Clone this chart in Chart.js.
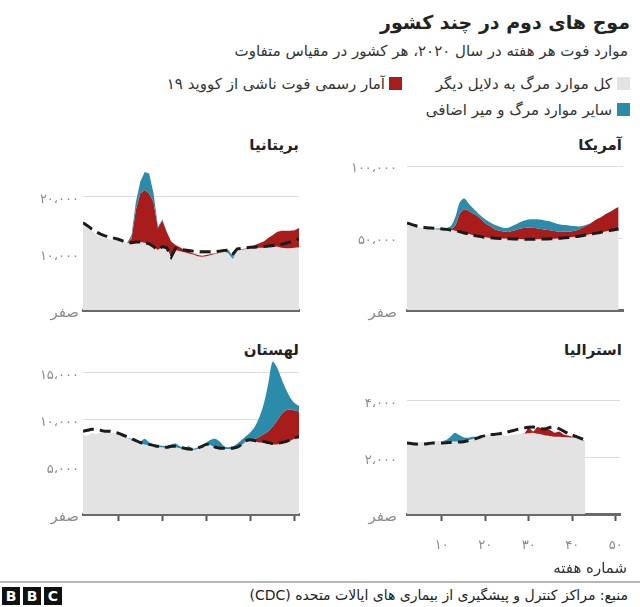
<!DOCTYPE html>
<html lang="fa" dir="rtl">
<head>
<meta charset="utf-8">
<title>موج های دوم در چند کشور</title>
<script src="https://cdn.jsdelivr.net/npm/chart.js@4.4.1/dist/chart.umd.min.js"></script>
<style>
  html, body { margin: 0; padding: 0; background: #fff; }
  body { width: 640px; height: 607px; position: relative; overflow: hidden;
         font-family: "DejaVu Sans", "Noto Sans", sans-serif; color: #222; }
  .txt { position: absolute; white-space: nowrap; direction: rtl; }
  .title { right: 10px; top: 7px; font-size: 19px; font-weight: bold; line-height: 30px; }
  .sub { right: 12px; top: 40px; font-size: 15px; line-height: 22px; color: #333; }
  .leg { font-size: 15px; line-height: 20px; color: #333; }
  .sw { position: absolute; width: 13px; height: 13px; }
  .ptitle { font-size: 15px; font-weight: bold; line-height: 20px; }
  canvas { position: absolute; }
  .rule { position: absolute; left: 0; top: 581px; width: 640px; height: 2px; background: #b5b5b5; }
  .bbc span { position: absolute; top: 587px; width: 18px; height: 18px; background: #111; color: #fff;
              font: bold 14px/18px "DejaVu Sans", sans-serif; text-align: center; direction: ltr; }
</style>
</head>
<body>

<div class="txt title">موج های دوم در چند کشور</div>
<div class="txt sub">موارد فوت هر هفته در سال ۲۰۲۰، هر کشور در مقیاس متفاوت</div>

<div class="sw" style="right:10px; top:77px; background:#e3e3e3"></div>
<div class="txt leg" style="right:28px; top:74px">کل موارد مرگ به دلایل دیگر</div>
<div class="sw" style="right:238px; top:77px; background:#a81c1c"></div>
<div class="txt leg" style="right:255px; top:74px">آمار رسمی فوت ناشی از کووید ۱۹</div>
<div class="sw" style="right:10px; top:103px; background:#2a8bab"></div>
<div class="txt leg" style="right:28px; top:100px">سایر موارد مرگ و میر اضافی</div>

<div class="txt ptitle" style="right:18px; top:135px">آمریکا</div>
<div class="txt ptitle" style="right:341px; top:135px">بریتانیا</div>
<div class="txt ptitle" style="right:18px; top:340px">استرالیا</div>
<div class="txt ptitle" style="right:341px; top:340px">لهستان</div>

<canvas id="us" width="320" height="200" style="left:320px; top:130px"></canvas>
<canvas id="uk" width="320" height="200" style="left:0px; top:130px"></canvas>
<canvas id="au" width="320" height="250" style="left:320px; top:330px"></canvas>
<canvas id="pl" width="320" height="250" style="left:0px; top:330px"></canvas>

<div class="txt" style="right:13px; top:558px; font-size:15px; line-height:20px; color:#333">شماره هفته</div>

<div class="rule"></div>
<div class="bbc"><span style="left:2px">B</span><span style="left:23px">B</span><span style="left:44px">C</span></div>
<div class="txt" style="right:12px; top:585px; font-size:14px; line-height:20px">منبع: مراکز کنترل و پیشگیری از بیماری های ایالات متحده (CDC)</div>

<script>
// week numbers of 2020 (x axis)
const weeks = [2, 3, 4, 5, 6, 7, 8, 9, 10, 11, 12, 13, 14, 15, 16, 17, 18, 19, 20, 21,
  22, 23, 24, 25, 26, 27, 28, 29, 30, 31, 32, 33, 34, 35, 36, 37, 38, 39, 40, 41,
  42, 43, 44, 45, 46, 47, 48, 49, 50, 51];
const weekTicks = [10, 20, 30, 40, 50];
const weekTickLabels = ['۱۰', '۲۰', '۳۰', '۴۰', '۵۰'];

// all values in thousands of deaths per week
// "other" = top of grey area, "covid" = top of red area, "total" = top of teal area,
// "expected" = dashed line

// USA (weeks 2-50)
const usOther = [59.5, 58.5, 57.8, 57.2, 56.8, 56.5, 56.3, 56.0, 55.8, 55.5,
  55.5, 55.0, 54.4, 53.5, 52.8, 52.0, 51.3, 50.8, 50.4, 50.1,
  49.9, 49.7, 49.6, 49.5, 49.4, 49.3, 49.2, 49.1, 49.1, 49.1,
  49.2, 49.3, 49.4, 49.5, 49.7, 49.9, 50.2, 50.5, 50.9, 51.3,
  51.8, 52.3, 52.8, 53.4, 54.0, 54.6, 55.2, 55.8, 56.3];
const usCovid = [59.5, 58.5, 57.8, 57.2, 56.8, 56.5, 56.3, 56.0, 55.8, 55.5,
  56.0, 59.0, 67.0, 70.0, 69.0, 67.0, 65.3, 62.5, 59.7, 58.0,
  56.0, 55.0, 54.5, 54.2, 55.0, 56.0, 56.8, 57.2, 57.2, 57.0,
  56.5, 56.0, 55.5, 55.0, 54.6, 54.4, 54.4, 54.5, 55.0, 56.0,
  57.5, 59.0, 61.0, 63.0, 64.5, 66.5, 68.0, 70.0, 71.5];
const usTotal = [59.5, 58.5, 57.8, 57.2, 56.8, 56.5, 56.5, 56.6, 56.8, 57.0,
  58.5, 65.0, 75.0, 77.5, 74.0, 70.6, 67.6, 64.8, 62.5, 60.6,
  59.0, 57.9, 57.0, 57.2, 58.5, 60.0, 61.5, 62.5, 63.0, 63.0,
  62.8, 62.4, 61.8, 61.0, 60.0, 59.3, 59.0, 58.5, 58.3, 58.0,
  58.5, 59.5, 61.0, 63.0, 64.5, 66.5, 68.0, 70.0, 71.5];
const usExpected = [60.5, 59.5, 58.5, 57.8, 57.3, 57.0, 56.8, 56.5, 56.3, 56.0,
  55.5, 55.0, 54.4, 53.5, 52.8, 52.0, 51.3, 50.8, 50.4, 50.1,
  49.9, 49.7, 49.6, 49.5, 49.4, 49.3, 49.2, 49.1, 49.1, 49.1,
  49.2, 49.3, 49.4, 49.5, 49.7, 49.9, 50.2, 50.5, 50.9, 51.3,
  51.8, 52.3, 52.8, 53.4, 54.0, 54.6, 55.2, 55.8, 56.3];
const usTicks = [0, 50, 100];
const usTickLabels = ['صفر', '۵۰،۰۰۰', '۱۰۰،۰۰۰'];

// UK (weeks 2-51)
const ukOther = [15.3, 14.6, 14.0, 13.3, 13.0, 12.7, 12.5, 12.4, 12.3, 12.1,
  11.9, 11.9, 12.0, 12.0, 11.9, 11.7, 11.2, 10.6, 11.2, 11.0,
  9.4, 10.6, 10.4, 10.2, 10.0, 9.8, 9.5, 9.4, 9.5, 9.7,
  9.9, 10.1, 10.4, 10.0, 9.0, 10.6, 10.6, 10.8, 11.0, 11.0,
  11.0, 11.0, 11.1, 11.1, 11.2, 11.0, 10.9, 10.9, 11.0, 11.1];
const ukCovid = [15.3, 14.6, 14.0, 13.3, 13.0, 12.7, 12.5, 12.4, 12.3, 12.1,
  11.9, 12.6, 17.7, 20.6, 21.2, 20.6, 19.1, 14.5, 15.8, 13.8,
  12.1, 11.5, 11.1, 10.6, 10.3, 10.0, 9.7, 9.6, 9.7, 9.9,
  10.0, 10.2, 10.5, 10.0, 9.0, 10.7, 10.7, 10.9, 11.2, 11.5,
  11.8, 12.1, 12.7, 13.2, 13.8, 14.0, 14.0, 14.0, 14.1, 14.5];
const ukTotal = [15.3, 14.6, 14.0, 13.3, 13.0, 12.7, 12.5, 12.4, 12.3, 12.1,
  11.9, 13.2, 19.1, 22.7, 24.4, 24.1, 20.6, 14.7, 16.0, 13.8,
  12.1, 11.5, 11.1, 10.6, 10.3, 10.0, 9.7, 9.6, 9.7, 9.9,
  10.0, 10.2, 10.5, 10.6, 9.4, 10.9, 10.7, 10.9, 11.2, 11.5,
  11.8, 12.1, 12.7, 13.2, 13.8, 14.0, 14.0, 14.0, 14.1, 14.5];
const ukExpected = [15.4, 14.9, 14.3, 13.8, 13.4, 13.1, 12.9, 12.7, 12.5, 12.2,
  11.9, 11.9, 12.0, 12.0, 11.9, 11.7, 11.2, 10.6, 11.2, 11.0,
  9.4, 10.9, 10.7, 10.6, 10.5, 10.4, 10.3, 10.3, 10.3, 10.3,
  10.3, 10.4, 10.5, 10.6, 9.9, 10.8, 10.9, 11.0, 11.1, 11.1,
  11.2, 11.2, 11.3, 11.4, 11.5, 11.6, 11.8, 12.0, 12.3, 12.6];
const ukTicks = [0, 10, 20];
const ukTickLabels = ['صفر', '۱۰،۰۰۰', '۲۰،۰۰۰'];

// Australia (weeks 2-43)
const auOther = [2.54, 2.53, 2.52, 2.52, 2.54, 2.56, 2.57, 2.57, 2.56, 2.55,
  2.55, 2.55, 2.55, 2.56, 2.60, 2.63, 2.68, 2.74, 2.78, 2.80,
  2.82, 2.84, 2.80, 2.74, 2.78, 2.80, 2.82, 2.83, 2.84, 2.86,
  2.82, 2.80, 2.76, 2.74, 2.72, 2.72, 2.71, 2.70, 2.69, 2.68,
  2.66, 2.52];
const auCovid = [2.54, 2.53, 2.52, 2.52, 2.54, 2.56, 2.57, 2.57, 2.56, 2.55,
  2.55, 2.55, 2.55, 2.56, 2.60, 2.63, 2.68, 2.74, 2.78, 2.80,
  2.82, 2.84, 2.80, 2.74, 2.78, 2.80, 2.82, 2.83, 3.05, 2.90,
  3.06, 3.02, 2.98, 2.95, 2.86, 2.90, 2.80, 2.76, 2.72, 2.71,
  2.68, 2.52];
const auTotal = [2.54, 2.53, 2.52, 2.52, 2.54, 2.56, 2.57, 2.57, 2.56, 2.60,
  2.72, 2.86, 2.78, 2.70, 2.68, 2.72, 2.72, 2.74, 2.78, 2.80,
  2.82, 2.84, 2.80, 2.74, 2.78, 2.80, 2.82, 2.83, 3.05, 2.90,
  3.06, 3.02, 2.98, 2.95, 2.86, 2.90, 2.80, 2.76, 2.72, 2.71,
  2.68, 2.52];
const auExpected = [2.50, 2.48, 2.46, 2.45, 2.46, 2.48, 2.50, 2.50, 2.50, 2.51,
  2.52, 2.53, 2.53, 2.54, 2.58, 2.62, 2.66, 2.72, 2.76, 2.79,
  2.80, 2.82, 2.85, 2.88, 2.92, 2.96, 3.00, 3.03, 3.05, 3.06,
  3.04, 3.00, 3.00, 3.05, 3.06, 3.00, 2.92, 2.84, 2.78, 2.72,
  2.66, 2.60];
const auTicks = [0, 2, 4];
const auTickLabels = ['صفر', '۲،۰۰۰', '۴،۰۰۰'];

// Poland (weeks 2-51)
const plOther = [8.5, 8.3, 8.6, 8.5, 8.7, 8.7, 8.7, 8.6, 8.5, 8.3,
  8.1, 7.9, 7.7, 7.5, 7.4, 7.3, 7.2, 7.1, 7.1, 7.0,
  7.1, 7.1, 7.0, 6.9, 6.8, 6.8, 6.9, 7.1, 7.3, 7.3,
  7.0, 6.9, 6.9, 6.9, 6.9, 7.0, 7.3, 7.7, 7.8, 7.7,
  7.6, 7.6, 7.5, 7.4, 7.4, 7.5, 7.6, 7.8, 8.0, 8.1];
const plCovid = [8.5, 8.3, 8.6, 8.5, 8.7, 8.7, 8.7, 8.6, 8.5, 8.3,
  8.1, 7.9, 7.7, 7.5, 7.4, 7.3, 7.2, 7.1, 7.1, 7.0,
  7.1, 7.1, 7.0, 6.9, 6.8, 6.8, 6.9, 7.1, 7.3, 7.3,
  7.0, 6.9, 6.9, 6.9, 6.9, 7.0, 7.3, 7.8, 7.9, 8.0,
  8.2, 8.5, 8.8, 9.3, 9.9, 10.6, 11.0, 11.1, 11.0, 10.9];
const plTotal = [8.5, 8.3, 8.6, 8.5, 8.7, 8.7, 8.7, 8.6, 8.5, 8.3,
  8.1, 8.0, 7.8, 7.7, 8.0, 7.6, 7.4, 7.3, 7.25, 7.2,
  7.4, 7.5, 7.2, 7.05, 7.2, 6.95, 7.1, 7.3, 7.6, 7.9,
  8.0, 7.7, 7.2, 7.1, 7.2, 7.5, 7.9, 8.3, 8.7, 9.3,
  10.3, 11.7, 13.8, 16.2, 15.6, 14.4, 13.3, 12.4, 11.8, 11.5];
const plExpected = [8.8, 8.9, 9.0, 9.0, 8.9, 8.8, 8.8, 8.7, 8.6, 8.4,
  8.2, 8.0, 7.8, 7.6, 7.5, 7.4, 7.3, 7.2, 7.2, 7.1,
  7.2, 7.2, 7.1, 7.0, 6.9, 6.9, 7.0, 7.2, 7.4, 7.4,
  7.1, 7.0, 7.0, 7.0, 7.0, 7.1, 7.4, 7.8, 7.9, 7.8,
  7.7, 7.7, 7.6, 7.5, 7.5, 7.6, 7.7, 7.9, 8.1, 8.2];
const plTicks = [0, 5, 10, 15];
const plTickLabels = ['صفر', '۵،۰۰۰', '۱۰،۰۰۰', '۱۵،۰۰۰'];

const GREY = '#e3e3e3';
const RED = '#a81c1c';
const TEAL = '#2a8bab';

Chart.defaults.font.family = '"DejaVu Sans", "Noto Sans", sans-serif';

// side: 'left' or 'right' column; row: 'top' or 'bottom'
function makePanel(id, side, row, s) {
  const pts = arr => arr.map((v, i) => ({ x: weeks[i], y: v }));
  const area = (data, color, fill, order) => ({
    data: pts(data), backgroundColor: color, borderColor: 'rgba(0,0,0,0)', borderWidth: 0,
    fill: fill, order: order, pointRadius: 0, tension: s.tension
  });
  const isBottom = row === 'bottom';
  const showLabels = isBottom && side === 'right';

  new Chart(document.getElementById(id), {
    type: 'line',
    data: {
      datasets: [
        area(s.other, GREY, 'origin', 3),
        area(s.covid, RED, '-1', 2),
        area(s.total, TEAL, '-1', 1),
        {
          data: pts(s.expected), borderColor: '#1b1b1b', borderWidth: 3, borderDash: [11, 6],
          fill: false, order: 0, pointRadius: 0, tension: s.tension
        }
      ]
    },
    options: {
      responsive: false,
      animation: false,
      events: [],
      layout: { padding: { top: isBottom ? 26 : 30, right: side === 'left' ? 21 : 17, left: 0, bottom: 0 } },
      plugins: { legend: { display: false }, tooltip: { enabled: false } },
      scales: {
        x: {
          type: 'linear', min: 2, max: 51, z: 1,
          afterBuildTicks: ax => { ax.ticks = weekTicks.map(v => ({ value: v })); },
          afterFit: ax => { ax.height = isBottom ? 66 : 20; },
          grid: { drawOnChartArea: false, drawTicks: isBottom, tickLength: 7, tickWidth: 2, tickColor: '#555' },
          border: { display: true, color: '#6a6a6a', width: 3 },
          ticks: {
            display: showLabels, padding: 17, color: '#8a8a8a', font: { size: 13 },
            maxRotation: 0, autoSkip: false,
            callback: (v, i) => weekTickLabels[i]
          }
        },
        y: {
          min: 0, max: s.max,
          afterBuildTicks: ax => { ax.ticks = s.ticks.map(v => ({ value: v })); },
          afterFit: ax => { ax.width = side === 'left' ? 83 : 87; },
          grid: { color: '#dcdcdc', lineWidth: 1, drawTicks: false },
          border: { display: false },
          ticks: {
            padding: side === 'left' ? 4 : 10, color: '#8a8a8a', labelOffset: 3,
            font: ctx => ({ size: ctx.index === 0 ? 15 : 13 }),
            callback: (v, i) => s.tickLabels[i]
          }
        }
      }
    }
  });
}

makePanel('us', 'right', 'top', { other: usOther, covid: usCovid, total: usTotal, expected: usExpected,
  max: 104.2, ticks: usTicks, tickLabels: usTickLabels, tension: 0.3 });
makePanel('uk', 'left', 'top', { other: ukOther, covid: ukCovid, total: ukTotal, expected: ukExpected,
  max: 26.5, ticks: ukTicks, tickLabels: ukTickLabels, tension: 0 });
makePanel('au', 'right', 'bottom', { other: auOther, covid: auCovid, total: auTotal, expected: auExpected,
  max: 5.56, ticks: auTicks, tickLabels: auTickLabels, tension: 0.2 });
makePanel('pl', 'left', 'bottom', { other: plOther, covid: plCovid, total: plTotal, expected: plExpected,
  max: 16.8, ticks: plTicks, tickLabels: plTickLabels, tension: 0.3 });
</script>
</body>
</html>
